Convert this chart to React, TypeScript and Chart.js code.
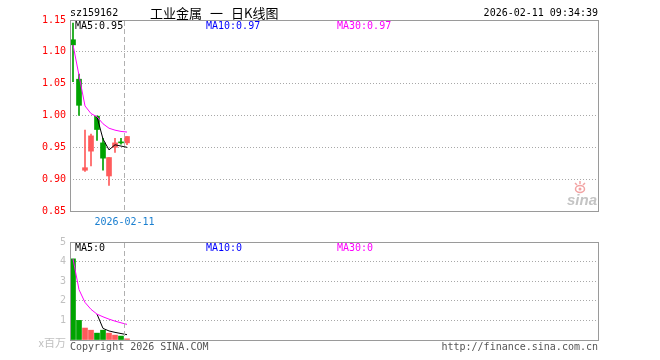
import React, { useEffect, useRef } from 'react';
import { Chart, registerables } from 'chart.js';

Chart.register(...registerables);

// ---- data ----
const categories = ['2026-01-29', '2026-01-30', '2026-02-02', '2026-02-03', '2026-02-04', '2026-02-05', '2026-02-06', '2026-02-09', '2026-02-10', '2026-02-11'];
const opens = [1.119, 1.057, 0.914, 0.944, 0.999, 0.957, 0.905, 0.950, 0.958, 0.957];
const closes = [1.111, 1.016, 0.918, 0.968, 0.978, 0.933, 0.934, 0.957, 0.957, 0.967];
const highs = [1.145, 1.065, 0.977, 0.971, 0.999, 0.964, 0.934, 0.964, 0.964, 0.967];
const lows = [1.053, 1.000, 0.912, 0.921, 0.961, 0.914, 0.890, 0.942, 0.955, 0.954];
const volumes = [4.14, 1.0, 0.61, 0.5, 0.35, 0.5, 0.35, 0.25, 0.2, 0.06];

const priceMA5 = [null, null, null, null, 0.998, 0.963, 0.946, 0.954, 0.952, 0.950];
const priceMA10 = [null, null, null, null, null, null, null, null, null, 0.974];
const priceMA30 = [1.111, 1.063, 1.015, 1.003, 0.998, 0.987, 0.980, 0.977, 0.975, 0.974];
const volMA5 = [null, null, null, null, 1.32, 0.592, 0.462, 0.39, 0.33, 0.272];
const volMA30 = [4.14, 2.57, 1.917, 1.563, 1.32, 1.183, 1.064, 0.963, 0.878, 0.796];
const volLegendValues = ['0', '0', '0'];

const priceTicks = [0.85, 0.90, 0.95, 1.00, 1.05, 1.10, 1.15];
const volTicks = [0, 1, 2, 3, 4, 5];

const SYMBOL = 'sz159162';
const TITLE = '工业金属 一 日K线图';
const STAMP = '2026-02-11 09:34:39';
const DATE_MARK = '2026-02-11';
const SLOT_COUNT = 88;

// ---- styles ----
const UP = '#ff5b5b';
const DOWN = '#00a300';
const MONO = '"DejaVu Sans Mono", monospace';
const TITLE_X = [150, 210, 231];
const slotLabels = Array.from({ length: SLOT_COUNT }, (_, i) => categories[i] ?? '');
const candleColors = categories.map((_, i) => (closes[i] >= opens[i] ? UP : DOWN));

function lastVal(arr: (number | null)[]) {
  for (let i = arr.length - 1; i >= 0; i--) if (arr[i] != null) return arr[i] as number;
  return 0;
}

function dashLine(chart: any) {
  const x = chart.scales.x;
  const idx = categories.indexOf(DATE_MARK);
  const slot = x.getPixelForValue(1) - x.getPixelForValue(0);
  return Math.round(x.getPixelForValue(idx) - slot / 2) + 0.5;
}

function drawFrame(chart: any) {
  const { ctx, chartArea: a } = chart;
  ctx.save();
  ctx.strokeStyle = '#9a9a9a';
  ctx.lineWidth = 1;
  ctx.strokeRect(Math.round(a.left) + 0.5, Math.round(a.top) + 0.5, Math.round(a.right - a.left), Math.round(a.bottom - a.top));
  const dx = dashLine(chart);
  ctx.setLineDash([5, 3]);
  ctx.strokeStyle = '#b0b0b0';
  ctx.beginPath();
  ctx.moveTo(dx, a.top + 1);
  ctx.lineTo(dx, a.bottom);
  ctx.stroke();
  ctx.restore();
}

const pricePlugin = {
  id: 'pricePlugin',
  afterDraw(chart: any) {
    const { ctx, chartArea: a } = chart;
    drawFrame(chart);
    ctx.save();
    ctx.textBaseline = 'middle';
    ctx.font = `10px ${MONO}`;
    ctx.fillStyle = '#000';
    ctx.textAlign = 'left';
    ctx.fillText(SYMBOL, 70, 13);
    ctx.textAlign = 'right';
    ctx.fillText(STAMP, a.right, 13);
    ctx.textAlign = 'left';
    ctx.font = '13px "Noto Sans CJK SC"';
    TITLE.split(' ').forEach((part, i) => ctx.fillText(part, TITLE_X[i], 13));
    // legends
    ctx.font = `10px ${MONO}`;
    ctx.fillStyle = '#000';
    ctx.fillText(`MA5:${lastVal(priceMA5).toFixed(2)}`, 75, 26);
    ctx.fillStyle = '#0000ff';
    ctx.fillText(`MA10:${lastVal(priceMA10).toFixed(2)}`, 206, 26);
    ctx.fillStyle = '#ff00ff';
    ctx.fillText(`MA30:${lastVal(priceMA30).toFixed(2)}`, 337, 26);
    // date mark
    const dx = dashLine(chart);
    ctx.fillStyle = '#1a7fd0';
    ctx.textAlign = 'center';
    ctx.font = `10px ${MONO}`;
    ctx.fillText(DATE_MARK, dx, a.bottom + 11);
    // sina watermark
    ctx.textAlign = 'right';
    ctx.textBaseline = 'alphabetic';
    ctx.font = 'italic bold 15px "Liberation Sans"';
    ctx.fillStyle = '#c4c4c4';
    ctx.fillText('sina', a.right - 1, a.bottom - 6);
    ctx.strokeStyle = '#f2a3a3';
    ctx.fillStyle = '#f2a3a3';
    ctx.lineWidth = 1.5;
    ctx.beginPath();
    ctx.ellipse(a.right - 18, a.bottom - 22, 4.5, 3.5, 0, 0, Math.PI * 2);
    ctx.stroke();
    ctx.beginPath();
    ctx.arc(a.right - 18, a.bottom - 22, 1.5, 0, Math.PI * 2);
    ctx.fill();
    ctx.beginPath();
    ctx.moveTo(a.right - 23, a.bottom - 28);
    ctx.lineTo(a.right - 21, a.bottom - 26);
    ctx.moveTo(a.right - 18, a.bottom - 30);
    ctx.lineTo(a.right - 18, a.bottom - 27);
    ctx.moveTo(a.right - 13, a.bottom - 28);
    ctx.lineTo(a.right - 15, a.bottom - 26);
    ctx.stroke();
    ctx.restore();
  },
};

const volPlugin = {
  id: 'volPlugin',
  afterDraw(chart: any) {
    const { ctx, chartArea: a } = chart;
    drawFrame(chart);
    ctx.save();
    ctx.textBaseline = 'middle';
    ctx.font = `10px ${MONO}`;
    ctx.textAlign = 'left';
    ctx.fillStyle = '#000';
    ctx.fillText(`MA5:${volLegendValues[0]}`, 75, a.top + 6);
    ctx.fillStyle = '#0000ff';
    ctx.fillText(`MA10:${volLegendValues[1]}`, 206, a.top + 6);
    ctx.fillStyle = '#ff00ff';
    ctx.fillText(`MA30:${volLegendValues[2]}`, 337, a.top + 6);
    ctx.fillStyle = '#555';
    ctx.fillText('Copyright 2026 SINA.COM', 70, a.bottom + 7);
    ctx.textAlign = 'right';
    ctx.fillText('http://finance.sina.com.cn', a.right, a.bottom + 7);
    ctx.fillStyle = '#c0c0c0';
    ctx.font = '11px "Noto Sans CJK SC"';
    ctx.fillText('x百万', a.left - 4, a.bottom + 3);
    ctx.restore();
  },
};

function gridColor(edges: number[]) {
  return (c: any) => {
    const v = c.tick ? c.tick.value : null;
    if (v == null) return 'transparent';
    return edges.some((e) => Math.abs(e - v) < 1e-6) ? 'transparent' : '#a8a8a8';
  };
}

export default function App() {
  const priceRef = useRef<HTMLCanvasElement>(null);
  const volRef = useRef<HTMLCanvasElement>(null);

  useEffect(() => {
    const common = {
      responsive: false,
      animation: false as const,
      events: [] as any[],
      plugins: { legend: { display: false }, tooltip: { enabled: false } },
    };

    const priceChart = new Chart(priceRef.current!, {
      type: 'bar',
      data: {
        labels: slotLabels,
        datasets: [
          {
            type: 'line',
            data: priceMA30,
            borderColor: '#ff00ff',
            borderWidth: 1,
            pointRadius: 0,
            tension: 0,
          } as any,
          {
            type: 'line',
            data: priceMA10,
            borderColor: '#0000ff',
            borderWidth: 1,
            pointRadius: 0,
          } as any,
          {
            type: 'line',
            data: priceMA5,
            borderColor: '#000000',
            borderWidth: 1,
            pointRadius: 0,
            tension: 0,
          } as any,
          {
            data: categories.map((_, i) => [lows[i], highs[i]]),
            backgroundColor: candleColors,
            barThickness: 1,
            grouped: false,
          } as any,
          {
            data: categories.map((_, i) => [opens[i], closes[i]]),
            backgroundColor: candleColors,
            barThickness: 5,
            minBarLength: 1,
            grouped: false,
          } as any,
        ],
      },
      options: {
        ...common,
        layout: { padding: { left: 0, right: 62, top: 20, bottom: 21 } },
        scales: {
          x: { display: false, offset: true },
          y: {
            min: priceTicks[0],
            max: priceTicks[priceTicks.length - 1],
            afterFit: (s: any) => { s.width = 70; },
            afterBuildTicks: (s: any) => { s.ticks = priceTicks.map((v) => ({ value: v })); },
            ticks: {
              color: '#ff0000',
              font: { family: MONO, size: 10 },
              padding: 4,
              callback: (v: any) => Number(v).toFixed(2),
            },
            grid: { drawTicks: false, color: gridColor([priceTicks[0], priceTicks[priceTicks.length - 1]]), lineWidth: 1 },
            border: { display: false, dash: [1, 2] },
          },
        },
      } as any,
      plugins: [pricePlugin],
    });

    const volChart = new Chart(volRef.current!, {
      type: 'bar',
      data: {
        labels: slotLabels,
        datasets: [
          {
            type: 'line',
            data: volMA30,
            borderColor: '#ff00ff',
            borderWidth: 1,
            pointRadius: 0,
          } as any,
          {
            type: 'line',
            data: volMA5,
            borderColor: '#000000',
            borderWidth: 1,
            pointRadius: 0,
          } as any,
          {
            data: volumes,
            backgroundColor: candleColors,
            barThickness: 5,
            grouped: false,
          } as any,
        ],
      },
      options: {
        ...common,
        layout: { padding: { left: 0, right: 62, top: 8, bottom: 20 } },
        scales: {
          x: { display: false, offset: true },
          y: {
            min: volTicks[0],
            max: volTicks[volTicks.length - 1],
            afterFit: (s: any) => { s.width = 70; },
            afterBuildTicks: (s: any) => { s.ticks = volTicks.map((v) => ({ value: v })); },
            ticks: {
              color: '#c0c0c0',
              font: { family: MONO, size: 10 },
              padding: 4,
              callback: (v: any) => (Number(v) === 0 ? '' : String(v)),
            },
            grid: { drawTicks: false, color: gridColor([volTicks[0], volTicks[volTicks.length - 1]]), lineWidth: 1 },
            border: { display: false, dash: [1, 2] },
          },
        },
      } as any,
      plugins: [volPlugin],
    });

    return () => {
      priceChart.destroy();
      volChart.destroy();
    };
  }, []);

  return (
    <div style={{ position: 'absolute', left: 0, top: 0, width: 660, height: 360, background: '#fff' }}>
      <canvas ref={priceRef} width={660} height={232} style={{ position: 'absolute', left: 0, top: 0, width: 660, height: 232 }} />
      <canvas ref={volRef} width={660} height={128} style={{ position: 'absolute', left: 0, top: 232, width: 660, height: 128 }} />
    </div>
  );
}
